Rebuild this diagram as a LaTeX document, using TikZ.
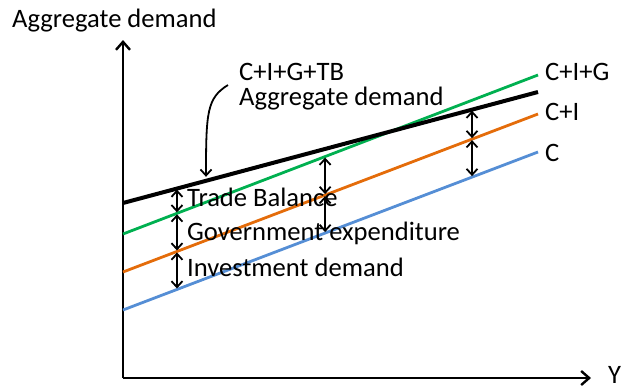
\documentclass[tikz,border=0pt]{standalone}
\usepackage{fontspec}
\setmainfont{Carlito}
\usetikzlibrary{arrows.meta,calc}
\begin{document}
\begin{tikzpicture}[x=1pt,y=-1pt,
  lbl/.style={anchor=base west,inner sep=0pt,font=\fontsize{26.6}{30}\selectfont},
  axis/.style={line width=2.4pt,-{Straight Barb[length=8pt,width=14pt,line width=2.4pt]}},
  curve/.style={line width=2.8pt},
  gap/.style={line width=1.8pt,{Straight Barb[length=6pt,width=11pt]}-{Straight Barb[length=6pt,width=11pt]},shorten <=1pt,shorten >=1pt},
  pointer/.style={line width=1.8pt,-{Straight Barb[length=6pt,width=11pt]}}]
\definecolor{cblue}{RGB}{85,142,213}
\definecolor{corange}{RGB}{228,108,10}
\definecolor{cgreen}{RGB}{0,176,80}
\useasboundingbox (0,0) rectangle (641,389);

% axes
\coordinate (O) at (123,378);
\coordinate (ytip) at (123,40);
\coordinate (xtip) at (591,378);
\draw[axis] (O) -- (ytip);
\draw[axis] (O) -- (xtip);
\node[lbl] (ylab) at (12,27) {Aggregate demand};
\node[lbl] (xlab) at (608,383) {Y};

% expenditure lines
\coordinate (c0) at (123,310);   \coordinate (c1) at (538,152);
\coordinate (ci0) at (123,272);  \coordinate (ci1) at (538,114);
\coordinate (cig0) at (123,234); \coordinate (cig1) at (538,75);
\coordinate (ad0) at (123,203);  \coordinate (ad1) at (538,92);
\draw[curve,cblue] (c0) -- (c1);
\draw[curve,corange] (ci0) -- (ci1);
\draw[curve,cgreen] (cig0) -- (cig1);
\draw[line width=4pt] (ad0) -- (ad1);

\node[lbl] (lcig) at (545,80) {C+I+G};
\node[lbl] (lci) at (545,120) {C+I};
\node[lbl] (lc) at (545,161.5) {C};

% gaps between the lines
\foreach \n/\f in {a/0.130,b/0.487,c/0.841}{
  \coordinate (ad\n) at ($(ad0)!\f!(ad1)$);
  \coordinate (cig\n) at ($(cig0)!\f!(cig1)$);
  \coordinate (ci\n) at ($(ci0)!\f!(ci1)$);
  \coordinate (c\n) at ($(c0)!\f!(c1)$);
}
\draw[gap] (ada) -- (ciga);
\draw[gap] (ciga) -- (cia);
\draw[gap] (cia) -- (ca);
\draw[gap] (cigb) -- (cib);
\draw[gap] (cib) -- (cb);
\draw[gap] (adc) -- (cic);
\draw[gap] (cic) -- (cc);

\node[lbl] (ltb) at (187,206.5) {Trade Balance};
\node[lbl] (lgov) at (187,240.5) {Government expenditure};
\node[lbl] (linv) at (187,276.5) {Investment demand};

% aggregate demand callout
\node[lbl] (ltop) at (239,80.5) {C+I+G+TB};
\node[lbl] (lagg) at (239,105) {Aggregate demand};
\coordinate (ps) at (228,85);
\coordinate (pe) at ($(ad0)!0.2!(ad1)+(0,-4)$);
\draw[pointer] (ps) .. controls (207,98) and (206,112) .. (pe);
\end{tikzpicture}
\end{document}
